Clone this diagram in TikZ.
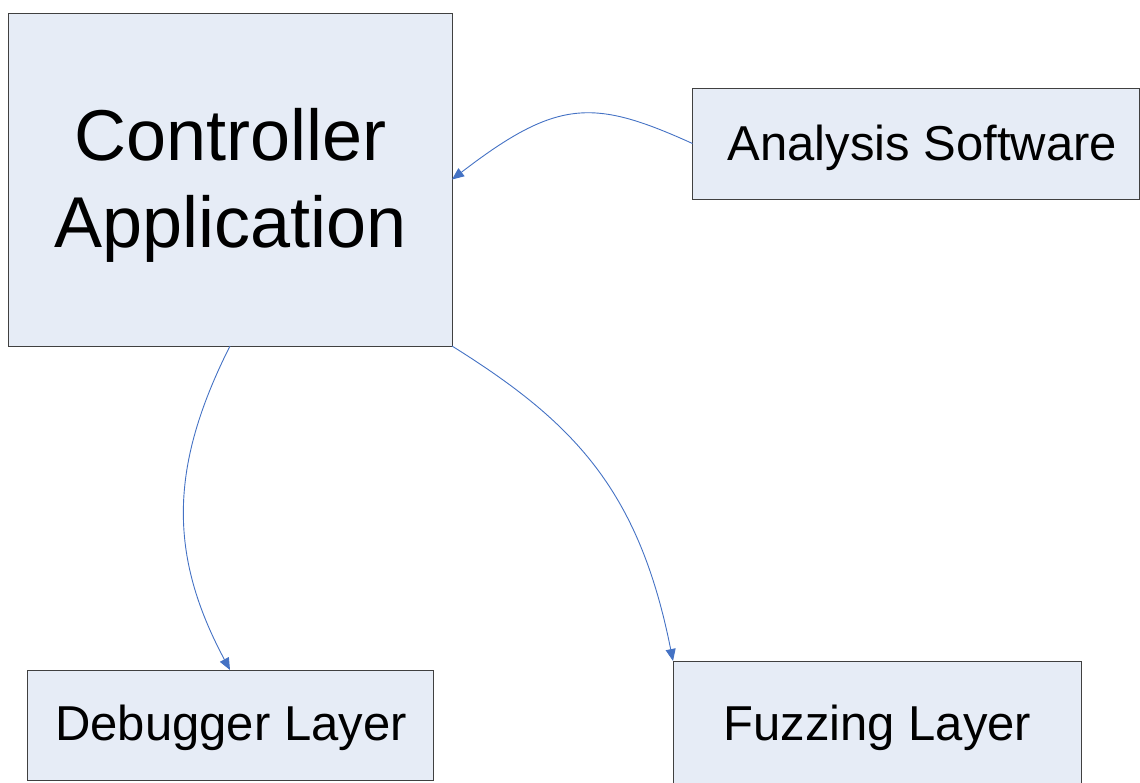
\documentclass[tikz,border=0pt]{standalone}
\usepackage{fontspec}
\setmainfont{Liberation Sans}
\usetikzlibrary{arrows.meta}
\definecolor{boxfill}{RGB}{230,236,246}
\definecolor{arrowblue}{RGB}{68,114,196}
\begin{document}
\begin{tikzpicture}[x=1pt,y=-1pt,
  box/.style={draw=black!75,line width=1pt,fill=boxfill,rectangle,inner sep=0pt,outer sep=0pt},
  lbl/.style={anchor=base,inner sep=0pt,font=\fontsize{49}{59}\selectfont},
  biglbl/.style={anchor=base,inner sep=0pt,align=center,font=\fontsize{72}{87}\selectfont},
  link/.style={draw=arrowblue,line width=0.9pt,-{Triangle[length=12pt,width=10pt]}}]
\useasboundingbox (0,0) rectangle (1140,782);
\clip (0,0) rectangle (1140,782);
\node[box,minimum width=444pt,minimum height=333pt] (ctrl) at (230,179.5) {};
\node[box,minimum width=447pt,minimum height=111pt] (ana) at (916,143.5) {};
\node[box,minimum width=406pt,minimum height=110pt] (dbg) at (230,725) {};
\node[box,minimum width=408pt,minimum height=128pt] (fuz) at (877,725) {};
\node[biglbl] (ctrltext) at (230.5,247) {Controller\\Application};
\node[lbl] (anatext) at (922.5,160) {Analysis Software};
\node[lbl] (dbgtext) at (231,740) {Debugger Layer};
\node[lbl] (fuztext) at (877.5,740) {Fuzzing Layer};
\draw[link] (ana.west) .. controls (594,99) and (558,98) .. (ctrl.east);
\draw[link] (ctrl.south) .. controls (169,467) and (168.5,555) .. (dbg.north);
\draw[link] (ctrl.south east) .. controls (572.6,421.4) and (638.7,488.4) .. (fuz.north west);
\end{tikzpicture}
\end{document}
